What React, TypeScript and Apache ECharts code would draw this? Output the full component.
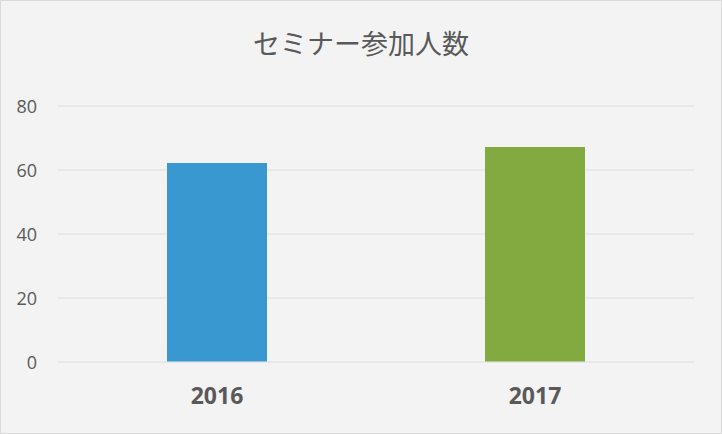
import React, { useEffect, useRef } from 'react'
import * as echarts from 'echarts'

const chartTitle = 'セミナー参加人数'
const years = ['2016', '2017']
const attendees = [62, 67]
const barColors = ['#3a98d1', '#82aa40']

const App = () => {
    const chart: any = useRef()

    useEffect(() => {
        document.body.style.margin = '0'
        const myChart = echarts.init(chart.current, null, { renderer: 'svg' })
        myChart.setOption({
            animation: false,
            backgroundColor: '#f3f3f3',
            title: {
                text: chartTitle,
                left: 'center',
                top: 28,
                padding: 0,
                textStyle: {
                    fontFamily: '"Noto Sans CJK JP", sans-serif',
                    fontSize: 27,
                    fontWeight: 'normal',
                    color: '#595959',
                },
            },
            grid: {
                left: 57,
                right: 27,
                top: 104.5,
                bottom: 71.5,
            },
            xAxis: {
                type: 'category',
                data: years,
                axisLine: { show: false },
                axisTick: { show: false },
                axisLabel: {
                    margin: 22,
                    fontFamily: '"Open Sans", sans-serif',
                    fontSize: 23,
                    fontWeight: 'bold',
                    color: '#595959',
                },
            },
            yAxis: {
                type: 'value',
                min: 0,
                max: 80,
                interval: 20,
                axisLine: { show: false },
                axisTick: { show: false },
                axisLabel: {
                    margin: 21,
                    fontFamily: '"Open Sans", sans-serif',
                    fontSize: 18,
                    color: '#595959',
                },
                splitLine: {
                    lineStyle: { color: '#e4e4e4', width: 1.5 },
                },
            },
            series: [
                {
                    type: 'bar',
                    barWidth: 100,
                    data: attendees.map((v, i) => ({
                        value: v,
                        itemStyle: { color: barColors[i] },
                    })),
                },
            ],
        })
        return () => {
            myChart.dispose()
        }
    }, [])

    return (
        <div
            ref={chart}
            style={{
                width: 722,
                height: 434,
                boxSizing: 'border-box',
                border: '1px solid #d9d9d9',
            }}
        />
    )
}

export default App
